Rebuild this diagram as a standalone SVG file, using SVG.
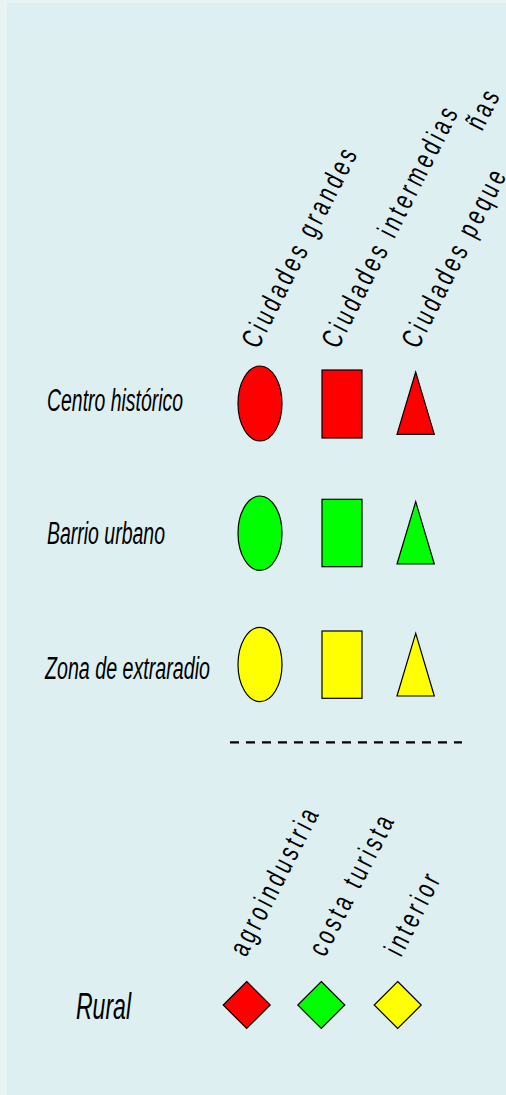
<svg xmlns="http://www.w3.org/2000/svg" width="506" height="1095" viewBox="0 0 506 1095">
<style>
.row{font-family:"Liberation Sans",Arial,sans-serif;font-style:italic;font-size:31px;fill:#000}
.rural{font-family:"Liberation Sans",Arial,sans-serif;font-style:italic;font-size:36px;fill:#000}
.col{font-family:"Liberation Sans",Arial,sans-serif;font-size:29px;letter-spacing:5.2px;fill:#000}
.sh{stroke:#000;stroke-width:1.2}
.red{fill:#ff0000}.green{fill:#00ff00}.yellow{fill:#ffff00}
</style>
<rect x="0" y="0" width="506" height="1095" fill="#e8f4f4"/>
<rect x="7" y="3" width="499" height="1092" fill="#ddeff1"/>
<g id="col-grandes"><text class="col" transform="translate(258,350) rotate(-63) scale(0.7,1)">Ciudades grandes</text></g>
<g id="col-intermedias"><text class="col" transform="translate(338,350) rotate(-63) scale(0.7,1)">Ciudades intermedias</text></g>
<g id="col-pequenas"><text class="col" transform="translate(418,350) rotate(-63) scale(0.7,1)">Ciudades peque</text><text class="col" transform="translate(482,132) rotate(-63) scale(0.7,1)">ñas</text></g>
<g id="row-centro"><text class="row" x="47" y="411" textLength="136" lengthAdjust="spacingAndGlyphs">Centro histórico</text></g>
<g id="row-barrio"><text class="row" x="47" y="544" textLength="118" lengthAdjust="spacingAndGlyphs">Barrio urbano</text></g>
<g id="row-zona"><text class="row" x="45" y="679" textLength="165" lengthAdjust="spacingAndGlyphs">Zona de extraradio</text></g>
<g id="shapes-centro">
<ellipse class="sh red" cx="260" cy="403.5" rx="22" ry="37.5"/>
<rect class="sh red" x="322" y="370" width="40" height="68"/>
<polygon class="sh red" points="415.7,372 397,434.3 434.3,434.3"/>
</g>
<g id="shapes-barrio">
<ellipse class="sh green" cx="260" cy="533.2" rx="22" ry="37.2"/>
<rect class="sh green" x="322" y="499.3" width="40" height="67.4"/>
<polygon class="sh green" points="415.7,501.7 397,564 434.3,564"/>
</g>
<g id="shapes-zona">
<ellipse class="sh yellow" cx="260" cy="664.5" rx="22" ry="37.2"/>
<rect class="sh yellow" x="322" y="631" width="40" height="67.3"/>
<polygon class="sh yellow" points="415.7,633.3 397,696 434.3,696"/>
</g>
<g id="separator"><line x1="230" y1="742.3" x2="462" y2="742.3" stroke="#000" stroke-width="2.2" stroke-dasharray="9,7"/></g>
<g id="col-agro"><text class="col" transform="translate(246,958) rotate(-63) scale(0.7,1)">agroindustria</text></g>
<g id="col-costa"><text class="col" transform="translate(325,958) rotate(-63) scale(0.7,1)">costa turista</text></g>
<g id="col-interior"><text class="col" transform="translate(401,958) rotate(-63) scale(0.7,1)">interior</text></g>
<g id="row-rural"><text class="rural" x="76" y="1019" textLength="55" lengthAdjust="spacingAndGlyphs">Rural</text></g>
<g id="shapes-rural">
<polygon class="sh red" points="246.7,981.5 270.2,1005 246.7,1028.5 223.2,1005"/>
<polygon class="sh green" points="321.3,981.5 344.8,1005 321.3,1028.5 297.8,1005"/>
<polygon class="sh yellow" points="397.7,981.5 421.2,1005 397.7,1028.5 374.2,1005"/>
</g>
</svg>
